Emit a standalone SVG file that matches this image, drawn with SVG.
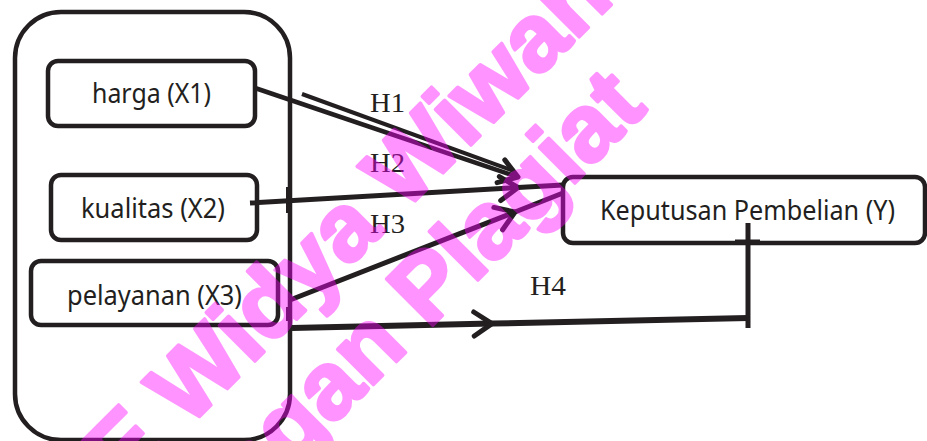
<svg xmlns="http://www.w3.org/2000/svg" width="927" height="441" viewBox="0 0 927 441">
  <style>
    .box { fill: #ffffff; stroke: #231f20; stroke-width: 4.5; }
    .lbl { font-family: "Noto Sans", "Open Sans", sans-serif; font-size: 28px; fill: #231f20; }
    .hyp { font-family: "Liberation Serif", "Times New Roman", serif; font-size: 28px; fill: #231f20; }
    .wire { fill: none; stroke: #231f20; stroke-linecap: butt; stroke-linejoin: round; }
    .wm { font-family: "Liberation Sans", Arial, sans-serif; font-weight: bold; font-size: 95px; fill: #ff00ff; stroke: #ff00ff; stroke-width: 3.5; stroke-linejoin: round; }
  </style>
  <defs>
    <marker id="chev" markerUnits="userSpaceOnUse" markerWidth="40" markerHeight="40" viewBox="-30 -20 40 40" refX="0" refY="0" orient="auto">
      <path d="M-18,-12 L0,0 L-18,12" fill="none" stroke="#231f20" stroke-width="5" stroke-linecap="round" stroke-linejoin="round"/>
    </marker>
  </defs>
  <rect width="927" height="441" fill="#ffffff"/>

  <!-- independent variables frame -->
  <g id="frame">
    <rect class="box" x="15" y="12" width="275" height="428" rx="46" ry="46" fill="none"/>
    <rect x="286" y="187" width="6" height="26" fill="#231f20"/>
    <rect x="286" y="307" width="6" height="14" fill="#231f20"/>
  </g>

  <g id="x1">
    <rect class="box" x="48" y="61" width="207" height="65" rx="10"/>
    <text class="lbl" x="92" y="103" textLength="119" lengthAdjust="spacingAndGlyphs">harga (X1)</text>
  </g>
  <g id="x2">
    <rect class="box" x="51" y="175" width="206" height="65" rx="10"/>
    <text class="lbl" x="81" y="218" textLength="144" lengthAdjust="spacingAndGlyphs">kualitas (X2)</text>
  </g>
  <g id="x3">
    <rect class="box" x="31" y="261" width="247" height="64" rx="10"/>
    <text class="lbl" x="67" y="305" textLength="175" lengthAdjust="spacingAndGlyphs">pelayanan (X3)</text>
  </g>
  <g id="y">
    <rect class="box" x="563" y="177" width="362" height="66" rx="10"/>
    <text class="lbl" x="600" y="220" textLength="295" lengthAdjust="spacingAndGlyphs">Keputusan Pembelian (Y)</text>
  </g>

  <!-- hypothesis paths -->
  <g id="connectors">
    <!-- H1: doubled stroke -->
    <line class="wire" x1="302" y1="94" x2="514" y2="171" stroke-width="4"/>
    <line class="wire" x1="255" y1="88" x2="518" y2="177" stroke-width="4.5" marker-end="url(#chev)"/>
    <!-- H2 -->
    <polyline class="wire" points="250,203 518,187.5 563,185" stroke-width="5" marker-mid="url(#chev)"/>
    <!-- H3 -->
    <polyline class="wire" points="290,300 515,212 563,193" stroke-width="5" marker-mid="url(#chev)"/>
    <!-- H4 -->
    <polyline class="wire" points="292,328 492,323.6 748,318" stroke-width="6" marker-mid="url(#chev)"/>
    <line class="wire" x1="748" y1="223" x2="748" y2="328" stroke-width="5"/>
    <line class="wire" x1="735" y1="242" x2="760" y2="242" stroke-width="5"/>
  </g>

  <g id="labels">
    <text class="hyp" x="370" y="112" textLength="35" lengthAdjust="spacingAndGlyphs">H1</text>
    <text class="hyp" x="370" y="172" textLength="35" lengthAdjust="spacingAndGlyphs">H2</text>
    <text class="hyp" x="370" y="233" textLength="35" lengthAdjust="spacingAndGlyphs">H3</text>
    <text class="hyp" x="530" y="295" textLength="36" lengthAdjust="spacingAndGlyphs">H4</text>
  </g>

  <!-- stamp overlay -->
  <g id="watermark" opacity="0.42">
    <text class="wm" transform="translate(19.5,596.5) rotate(-45)">STIE Widya Wiwaha</text>
    <text class="wm" transform="translate(174.5,583.5) rotate(-45)">Jangan Plagiat</text>
  </g>
</svg>
